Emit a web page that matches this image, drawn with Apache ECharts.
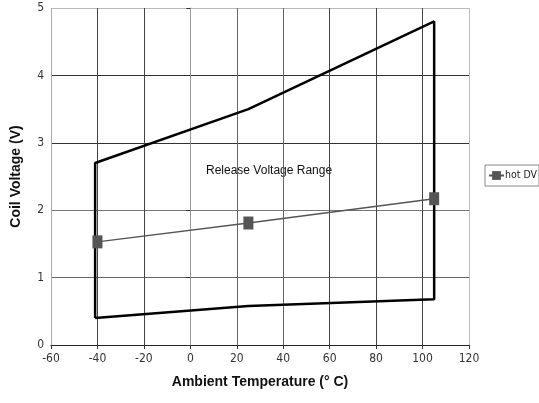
<!DOCTYPE html>
<html>
<head>
<meta charset="utf-8">
<script src="https://cdn.jsdelivr.net/npm/echarts@6/dist/echarts.min.js"></script>
<style>html,body{margin:0;padding:0;background:#fff}#c{width:539px;height:403px}</style>
</head>
<body>
<div id="c"></div>
<script>
// Release voltage range boundary (temperature °C, voltage V)
var boundaryTemp = [-41, -41, 25, 105, 105, 25, -41];
var boundaryVolt = [0.40, 2.70, 3.50, 4.80, 0.68, 0.58, 0.40];
// hot DV series
var hotTemp = [-40, 25, 105];
var hotVolt = [1.53, 1.81, 2.17];

var boundary = boundaryTemp.map(function (t, i) { return [t, boundaryVolt[i]]; });
var hot = hotTemp.map(function (t, i) { return [t, hotVolt[i]]; });

var font = 'DejaVu Sans Condensed, Liberation Sans Narrow, Liberation Sans, Arial, sans-serif';
var chart = echarts.init(document.getElementById('c'));
chart.setOption({
  animation: false,
  grid: { left: 51, right: 70, top: 8, bottom: 58 },
  legend: {
    data: ['hot DV'],
    left: 485, top: 165,
    orient: 'vertical',
    borderColor: '#888', borderWidth: 1,
    padding: [5, 2, 5, 3],
    itemWidth: 15, itemHeight: 11, itemGap: 0,
    textStyle: { fontFamily: font, fontSize: 10.5, color: '#222', padding: [0, 0, 0, -4] }
  },
  xAxis: {
    type: 'value', min: -60, max: 120, interval: 20,
    name: 'Ambient Temperature (° C)', nameLocation: 'middle', nameGap: 30,
    nameTextStyle: { fontFamily: 'Liberation Sans, Arial, sans-serif', fontWeight: 'bold', fontSize: 14, color: '#111' },
    axisLine: { show: true, onZero: false, lineStyle: { color: '#222', width: 1 } },
    axisTick: { show: true, length: 4, lineStyle: { color: '#333' } },
    axisLabel: { fontFamily: font, fontSize: 12, color: '#333', margin: 8 },
    splitLine: { show: true, lineStyle: { color: ['#aaa', '#444', '#444', '#666', '#666', '#666', '#444', '#444', '#444', '#bbb'], width: 1 } }
  },
  yAxis: {
    type: 'value', min: 0, max: 5, interval: 1,
    name: 'Coil Voltage (V)', nameLocation: 'middle', nameGap: 28,
    nameTextStyle: { fontFamily: 'Liberation Sans, Arial, sans-serif', fontWeight: 'bold', fontSize: 14, color: '#111' },
    axisLine: { show: true, lineStyle: { color: '#999', width: 1 } },
    axisTick: { show: true, length: 4, lineStyle: { color: '#333' } },
    axisLabel: { fontFamily: font, fontSize: 12, color: '#333', margin: 7 },
    splitLine: { show: true, lineStyle: { color: ['#222', '#666', '#777', '#333', '#333', '#bbb'], width: 1 } }
  },
  graphic: [{
    type: 'text', left: 206, top: 165,
    style: { text: 'Release Voltage Range', font: '12px Liberation Sans, Arial, sans-serif', fill: '#111' }
  }],
  series: [
    {
      name: 'boundary', type: 'line', data: boundary,
      showSymbol: false, symbol: 'none',
      lineStyle: { color: '#000', width: 2.5 }, z: 3
    },
    {
      name: 'hot DV', type: 'line', data: hot,
      symbol: 'rect', symbolSize: [10, 13],
      itemStyle: { color: '#555' },
      lineStyle: { color: '#555', width: 1.5 }, z: 4
    }
  ]
});
</script>
</body>
</html>
